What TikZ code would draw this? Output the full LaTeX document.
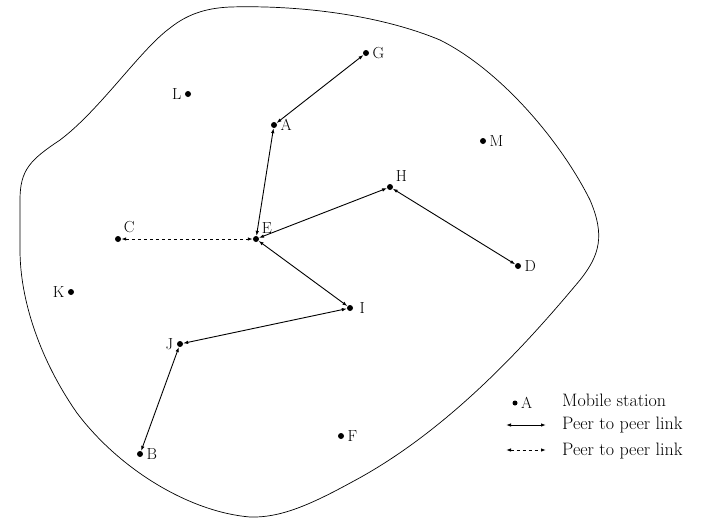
\documentclass[tikz,border=0pt]{standalone}
\usepackage{tikz}
\usetikzlibrary{arrows.meta}

\begin{document}
\begin{tikzpicture}[
    x=1pt,y=-1pt,
    station/.style={circle,fill=black,inner sep=0pt,minimum size=6pt,label distance=1pt},
    lbl/.style={font=\fontsize{16}{18}\selectfont},
    link/.style={{Latex[length=5pt,width=3.5pt]}-{Latex[length=5pt,width=3.5pt]},line width=0.9pt},
    weak/.style={link,dashed},
    legtext/.style={anchor=west,font=\fontsize{18}{20}\selectfont,inner sep=0pt}
  ]
    \useasboundingbox (0,0) rectangle (704,520);

    % coverage area
    \draw[line width=0.7pt] (230,7) .. controls (300,5) and (380,15) .. (440,40)
      .. controls (500,70) and (560,140) .. (590,200)
      .. controls (605,235) and (600,255) .. (580,280)
      .. controls (530,340) and (450,430) .. (352,482)
      .. controls (310,505) and (280,518) .. (250,517)
      .. controls (190,512) and (120,470) .. (77,413)
      .. controls (40,360) and (20,300) .. (20,250)
      -- (20,200)
      .. controls (20,170) and (30,160) .. (60,140)
      .. controls (100,110) and (140,50) .. (170,28)
      .. controls (190,12) and (210,8) .. cycle;

    % mobile stations
    \node[station,label={[lbl]right:G}] (G) at (366,53) {};
    \node[station,label={[lbl]left:L}] (L) at (188,94) {};
    \node[station,label={[lbl]right:A}] (A) at (274,125) {};
    \node[station,label={[lbl]right:M}] (M) at (483,141) {};
    \node[station,label={[lbl]above right:H}] (H) at (390,187) {};
    \node[station,label={[lbl]above right:C}] (C) at (118,239) {};
    \node[station,label={[lbl]above right:E}] (E) at (256,239) {};
    \node[station,label={[lbl]right:D}] (D) at (518,266) {};
    \node[station,label={[lbl]left:K}] (K) at (71,292) {};
    \node[station,label={[lbl,xshift=3pt]right:I}] (I) at (350,308) {};
    \node[station,label={[lbl]left:J}] (J) at (180,344) {};
    \node[station,label={[lbl]right:F}] (F) at (341,436) {};
    \node[station,label={[lbl]right:B}] (B) at (140,454) {};

    % peer to peer links
    \draw[link] (A) -- (G);
    \draw[link] (E) -- (A);
    \draw[link] (E) -- (H);
    \draw[link] (H) -- (D);
    \draw[link] (E) -- (I);
    \draw[link] (I) -- (J);
    \draw[link] (J) -- (B);
    \draw[weak] (C) -- (E);

    % legend
    \node[station,minimum size=5pt,label={[lbl]right:A}] (keydot) at (515,403) {};
    \coordinate (k1a) at (506,425);
    \coordinate (k1b) at (546,425);
    \coordinate (k2a) at (506,450);
    \coordinate (k2b) at (546,450);
    \draw[link] (k1a) -- (k1b);
    \draw[weak] (k2a) -- (k2b);
    \node[legtext] (t1) at (562,400) {Mobile station};
    \node[legtext] (t2) at (562,425) {Peer to peer link};
    \node[legtext] (t3) at (562,451) {Peer to peer link};
\end{tikzpicture}
\end{document}
